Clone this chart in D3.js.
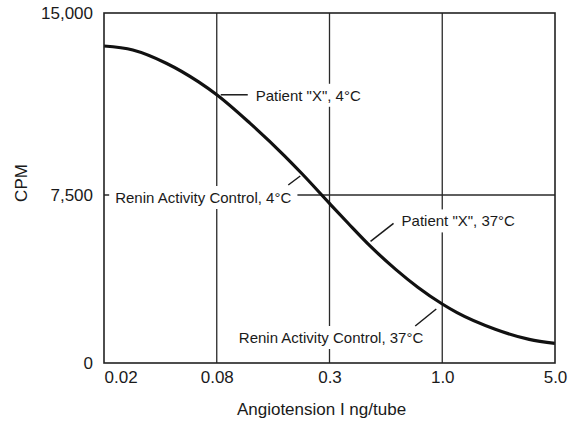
<!DOCTYPE html>
<html>
<head>
<meta charset="utf-8">
<script src="https://cdn.jsdelivr.net/npm/d3@7"></script>
<style>
  body { margin: 0; background: #fff; }
  text { font-family: "Liberation Sans", Arial, Helvetica, sans-serif; fill: #1a1a1a; }
</style>
</head>
<body>
<div id="chart"></div>
<script>
// x axis: ng/tube, the ticks sit at equal spacing on the original
var xTicks = [0.02, 0.08, 0.3, 1.0, 5.0];
var xTickLabels = ["0.02", "0.08", "0.3", "1.0", "5.0"];
var yTicks = [0, 7500, 15000];

// standard curve
var dose = [0.02, 0.0285, 0.043, 0.064, 0.08, 0.118, 0.177, 0.218, 0.3, 0.367, 0.465, 0.61, 0.77, 1.0, 1.235, 2.13, 3.46, 5.0];
var cpm  = [13640, 13475, 12930, 12160, 11630, 10460, 9115, 8365, 7125, 6228, 5205, 4170, 3384, 2634, 2250, 1509, 1054, 875];

// labelled points on the curve
var noteText = ['Patient "X", 4°C', 'Renin Activity Control, 4°C', 'Patient "X", 37°C', 'Renin Activity Control, 37°C'];
var noteDose = [0.08, 0.218, 0.465, 1.0];
var noteCpm  = [11630, 8365, 5205, 2634];

// set the dimensions and margins of the graph
var margin = {top: 13, right: 14, bottom: 60, left: 104};
var width = 569 - margin.left - margin.right;
var height = 423 - margin.top - margin.bottom;

var svg = d3.select("#chart")
  .append("svg")
  .attr("width", width + margin.left + margin.right)
  .attr("height", height + margin.top + margin.bottom)
  .append("g")
  .attr("transform", "translate(" + margin.left + "," + margin.top + ")");

// piecewise log scale: each tick step gets the same width
var x = d3.scaleLog()
  .domain(xTicks)
  .range(xTicks.map(function(d, i) { return i * width / (xTicks.length - 1); }));

// the hand drawn original gives the upper half a bit more room
var y = d3.scaleLinear()
  .domain(yTicks)
  .range([height, height * 0.52, 0]);

// grid lines
svg.selectAll(".vgrid")
  .data(xTicks.slice(1, -1))
  .enter()
  .append("line")
    .attr("x1", function(d) { return x(d); })
    .attr("x2", function(d) { return x(d); })
    .attr("y1", 0)
    .attr("y2", height)
    .attr("stroke", "#2a2a2a")
    .attr("stroke-width", 1.3);

svg.append("line")
  .attr("x1", 0)
  .attr("x2", width)
  .attr("y1", y(7500))
  .attr("y2", y(7500))
  .attr("stroke", "#2a2a2a")
  .attr("stroke-width", 1.3);

// axes, no tick marks
var xAxis = svg.append("g")
  .attr("transform", "translate(0," + height + ")")
  .call(d3.axisBottom(x).tickValues(xTicks).tickSize(0).tickPadding(8)
    .tickFormat(function(d, i) { return xTickLabels[i]; }));
xAxis.select(".domain").remove();
xAxis.selectAll("text")
  .style("font-size", "17px")
  .attr("fill", "#1a1a1a")
  .attr("text-anchor", function(d, i) { return i === 0 ? "start" : "middle"; });

var yAxis = svg.append("g")
  .call(d3.axisLeft(y).tickValues(yTicks).tickSize(0).tickPadding(11)
    .tickFormat(d3.format(",")));
yAxis.select(".domain").remove();
yAxis.selectAll("text")
  .style("font-size", "17px")
  .attr("fill", "#1a1a1a");

// axis titles
svg.append("text")
  .attr("x", width / 2 - 8)
  .attr("y", height + 52)
  .attr("text-anchor", "middle")
  .style("font-size", "17px")
  .text("Angiotension I ng/tube");

svg.append("text")
  .attr("transform", "rotate(-90)")
  .attr("x", -170)
  .attr("y", -77)
  .attr("text-anchor", "middle")
  .style("font-size", "17px")
  .text("CPM");

// notes: leader line offsets and text position, relative to the curve point
var notePlace = [
  {l: [4, 0, 31, 0],      t: [39, 6],   anchor: "start"},
  {l: [-2, 2, -14, 11],   t: [-11, 29], anchor: "end"},
  {l: [0, -5, 23, -23],   t: [31, -20], anchor: "start"},
  {l: [-6, 5, -27, 22],   t: [-19, 39], anchor: "end"}
];

var notes = svg.selectAll(".note")
  .data(noteText)
  .enter()
  .append("g")
    .attr("class", "note");

var noteLabels = notes.append("text")
  .attr("x", function(d, i) { return x(noteDose[i]) + notePlace[i].t[0]; })
  .attr("y", function(d, i) { return y(noteCpm[i]) + notePlace[i].t[1]; })
  .attr("text-anchor", function(d, i) { return notePlace[i].anchor; })
  .style("font-size", "15px")
  .text(function(d) { return d; });

// white box behind each label breaks the grid lines like the original
noteLabels.each(function() {
  var b = this.getBBox();
  d3.select(this.parentNode).insert("rect", "text")
    .attr("x", b.x - 6)
    .attr("y", b.y - 3)
    .attr("width", b.width + 12)
    .attr("height", b.height + 6)
    .attr("fill", "#fff");
});

notes.append("line")
  .attr("x1", function(d, i) { return x(noteDose[i]) + notePlace[i].l[0]; })
  .attr("y1", function(d, i) { return y(noteCpm[i]) + notePlace[i].l[1]; })
  .attr("x2", function(d, i) { return x(noteDose[i]) + notePlace[i].l[2]; })
  .attr("y2", function(d, i) { return y(noteCpm[i]) + notePlace[i].l[3]; })
  .attr("stroke", "#1a1a1a")
  .attr("stroke-width", 1.5);

// the curve
var line = d3.line()
  .x(function(d, i) { return x(dose[i]); })
  .y(function(d) { return y(d); })
  .curve(d3.curveMonotoneX);

svg.append("path")
  .datum(cpm)
  .attr("d", line)
  .attr("fill", "none")
  .attr("stroke", "#111")
  .attr("stroke-width", 3.2);

// frame
svg.append("rect")
  .attr("x", 0)
  .attr("y", 0)
  .attr("width", width)
  .attr("height", height)
  .attr("fill", "none")
  .attr("stroke", "#222")
  .attr("stroke-width", 1.6);
</script>
</body>
</html>
